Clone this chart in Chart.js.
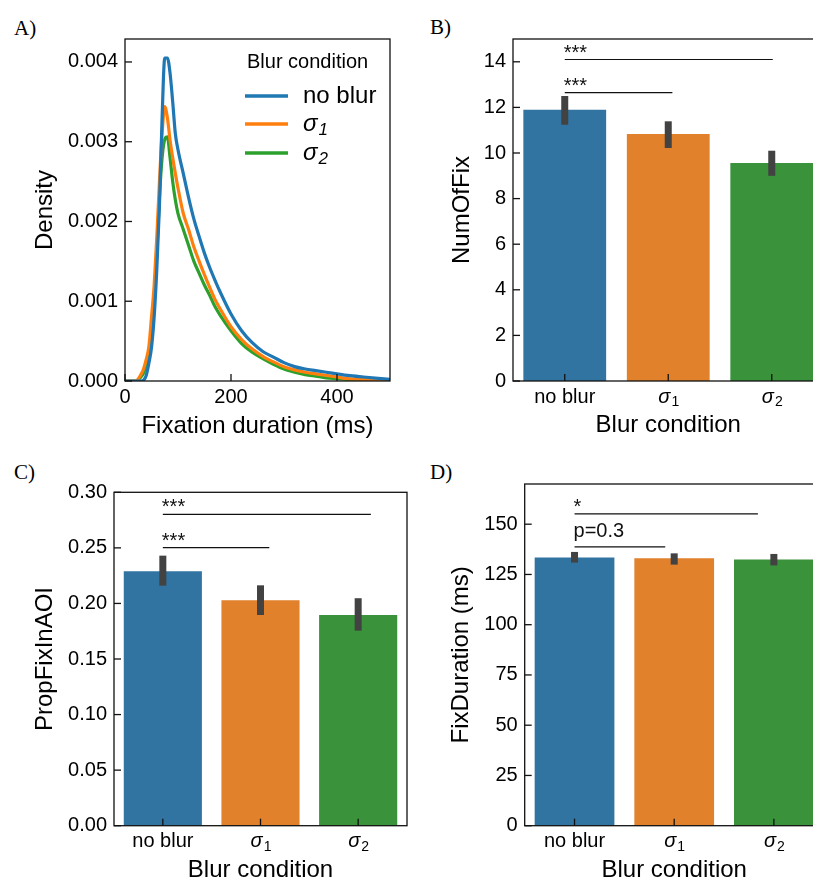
<!DOCTYPE html>
<html>
<head>
<meta charset="utf-8">
<script src="https://cdn.jsdelivr.net/npm/chart.js@4.4.1/dist/chart.umd.min.js"></script>
<style>
html, body { margin: 0; padding: 0; width: 813px; height: 880px; overflow: hidden; background: #fff; }
canvas { position: absolute; }
.tag { position: absolute; font-family: "Liberation Serif", serif; font-size: 21px; color: #000; line-height: 1; }
</style>
</head>
<body>
<div class="tag" style="left:14px;top:18px">A)</div>
<div class="tag" style="left:430px;top:17px">B)</div>
<div class="tag" style="left:14px;top:462px">C)</div>
<div class="tag" style="left:430px;top:462px">D)</div>
<canvas id="panelA" width="406" height="450" style="left:0;top:0"></canvas>
<canvas id="panelB" width="430" height="450" style="left:410px;top:0"></canvas>
<canvas id="panelC" width="430" height="450" style="left:0;top:440px"></canvas>
<canvas id="panelD" width="430" height="450" style="left:410px;top:440px"></canvas>
<script>
// categories and colours
var categories = ['no blur', 'σ1', 'σ2'];
var barColors = ['#3274a1', '#e1812c', '#3a923a'];
var lineColors = ['#1f77b4', '#ff7f0e', '#2ca02c'];

// A) density of fixation durations
var durationMs = [0, 20, 30, 35, 40, 45, 50, 55, 60, 65, 70, 75, 80, 85, 90, 95, 100, 110, 120, 130, 140, 150, 160, 170, 180, 200, 220, 240, 260, 280, 300, 320, 340, 360, 380, 400, 420, 450, 500];
var densityNoBlur = [0, 0, 0, 0.00001, 0.00007, 0.00022, 0.00042, 0.0008, 0.0014, 0.0022, 0.0033, 0.00405, 0.00405, 0.00386, 0.0035, 0.0031, 0.0029, 0.0026, 0.0023, 0.00203, 0.00181, 0.0016, 0.00142, 0.00126, 0.00111, 0.00084, 0.00063, 0.00048, 0.00037, 0.0003, 0.00023, 0.00018, 0.00015, 0.00013, 0.00011, 0.00009, 0.00007, 0.00005, 0.00002];
var densitySigma1 = [0, 0, 0.00008, 0.00015, 0.00027, 0.00043, 0.0008, 0.0012, 0.0018, 0.0025, 0.0031, 0.00344, 0.0033, 0.00302, 0.0028, 0.0026, 0.00242, 0.0021, 0.0019, 0.00168, 0.0015, 0.00133, 0.00117, 0.00102, 0.0009, 0.00068, 0.00052, 0.0004, 0.00031, 0.00024, 0.00018, 0.00014, 0.00011, 0.00009, 0.00007, 0.00005, 0.00003, 0.00002, 0.00001];
var densitySigma2 = [0, 0, 0.00005, 0.0001, 0.0002, 0.00035, 0.0006, 0.001, 0.0016, 0.0023, 0.0028, 0.00303, 0.00306, 0.0028, 0.0025, 0.00227, 0.0021, 0.0019, 0.0017, 0.0015, 0.00135, 0.0012, 0.00107, 0.00093, 0.00082, 0.00063, 0.00047, 0.00036, 0.00028, 0.00021, 0.00015, 0.00011, 0.00008, 0.00006, 0.00004, 0.00003, 0.00002, 0.00001, 0.00001];

// B) number of fixations
var numOfFix = [11.9, 10.83, 9.56];
var numOfFixLow = [11.24, 10.22, 9.0];
var numOfFixHigh = [12.5, 11.39, 10.1];
var numOfFixSig = [[0, 2.01, 14.1, '***'], [0, 1.04, 12.65, '***']];

// C) proportion of fixations in AOI
var propFix = [0.229, 0.2028, 0.1896];
var propFixLow = [0.216, 0.1896, 0.1755];
var propFixHigh = [0.243, 0.2163, 0.2047];
var propFixSig = [[0, 2.13, 0.2802, '***'], [0, 1.09, 0.2502, '***']];

// D) fixation duration
var fixDur = [133.4, 133.0, 132.5];
var fixDurLow = [130.9, 129.9, 129.5];
var fixDurHigh = [136.2, 135.5, 135.2];
var fixDurSig = [[0, 1.84, 155.1, '*'], [0, 0.91, 138.7, 'p=0.3']];

var SANS = '"Liberation Sans", Arial, sans-serif';

function drawSigma(ctx, x, y, sub, size, italicSub, align) {
    var f1 = 'italic ' + size + 'px ' + SANS;
    var subSize = Math.round(size * 0.7);
    var f2 = (italicSub ? 'italic ' : '') + subSize + 'px ' + SANS;
    ctx.font = f1;
    var w1 = ctx.measureText('σ').width;
    ctx.font = f2;
    var w2 = ctx.measureText(sub).width;
    var x0 = align === 'center' ? x - (w1 + w2) / 2 : x;
    ctx.textAlign = 'left';
    ctx.font = f1;
    ctx.fillText('σ', x0, y);
    ctx.font = f2;
    ctx.fillText(sub, x0 + w1 + 1, y + size * 0.25);
}

var decor = {
    id: 'decor',
    afterDatasetsDraw: function (chart, args, opts) {
        var ctx = chart.ctx, area = chart.chartArea;
        var xs = chart.scales.x, ys = chart.scales.y;
        ctx.save();
        // error bars
        if (opts.low) {
            ctx.strokeStyle = '#424242';
            ctx.lineWidth = 7;
            opts.low.forEach(function (lo, i) {
                var px = xs.getPixelForValue(i);
                ctx.beginPath();
                ctx.moveTo(px, ys.getPixelForValue(lo));
                ctx.lineTo(px, ys.getPixelForValue(opts.high[i]));
                ctx.stroke();
            });
        }
        // significance lines
        if (opts.sig) {
            ctx.strokeStyle = '#111';
            ctx.fillStyle = '#111';
            ctx.lineWidth = 1.2;
            opts.sig.forEach(function (s) {
                var x1 = xs.getPixelForValue(s[0]), x2 = xs.getPixelForValue(s[1]);
                var py = ys.getPixelForValue(s[2]);
                ctx.beginPath();
                ctx.moveTo(x1, py);
                ctx.lineTo(x2, py);
                ctx.stroke();
                ctx.font = '20px ' + SANS;
                ctx.textAlign = 'left';
                ctx.textBaseline = 'alphabetic';
                ctx.fillText(s[3], x1 - 1, py - (s[3].indexOf('p') >= 0 ? 10 : 1));
            });
        }
        // frame
        ctx.strokeStyle = '#111';
        ctx.lineWidth = 1.3;
        ctx.strokeRect(area.left, area.top, area.right - area.left, area.bottom - area.top);
        // inward ticks
        ys.ticks.forEach(function (t, i) {
            var py = ys.getPixelForTick(i);
            ctx.beginPath();
            ctx.moveTo(area.left, py);
            ctx.lineTo(area.left + 7, py);
            ctx.stroke();
        });
        xs.ticks.forEach(function (t, i) {
            var px = xs.getPixelForTick(i);
            ctx.beginPath();
            ctx.moveTo(px, area.bottom);
            ctx.lineTo(px, area.bottom - 7);
            ctx.stroke();
        });
        // category labels
        if (opts.xLabels) {
            ctx.fillStyle = '#000';
            ctx.textBaseline = 'middle';
            opts.xLabels.forEach(function (lab, i) {
                var px = xs.getPixelForValue(i);
                var py = area.bottom + 16;
                if (lab.charAt(0) === 'σ') {
                    drawSigma(ctx, px, py, lab.slice(1), 20, false, 'center');
                } else {
                    ctx.font = '20px ' + SANS;
                    ctx.textAlign = 'center';
                    ctx.fillText(lab, px, py);
                }
            });
        }
        // legend for the density panel
        if (opts.legend) {
            ctx.fillStyle = '#000';
            ctx.textBaseline = 'middle';
            ctx.textAlign = 'left';
            ctx.font = '20px ' + SANS;
            ctx.fillText('Blur condition', 247, 62);
            var rows = [96, 124, 153];
            categories.forEach(function (lab, i) {
                ctx.strokeStyle = lineColors[i];
                ctx.lineWidth = 3.3;
                ctx.beginPath();
                ctx.moveTo(245, rows[i]);
                ctx.lineTo(288, rows[i]);
                ctx.stroke();
                ctx.fillStyle = '#000';
                if (lab.charAt(0) === 'σ') {
                    drawSigma(ctx, 303, rows[i], lab.slice(1), 24, true, 'left');
                } else {
                    ctx.font = '24px ' + SANS;
                    ctx.textAlign = 'left';
                    ctx.fillText(lab, 303, rows[i]);
                }
            });
        }
        ctx.restore();
    }
};

function yAxis(max, step, digits, title, width, titlePad) {
    return {
        type: 'linear', min: 0, max: max,
        grid: { display: false, drawTicks: false },
        border: { display: false },
        ticks: {
            stepSize: step, includeBounds: false, padding: 7, color: '#000',
            font: { family: SANS, size: 20 },
            callback: function (v) { return v.toFixed(digits); }
        },
        title: { display: true, text: title, color: '#000', font: { family: SANS, size: 24 }, padding: { top: titlePad, bottom: 0 } },
        afterFit: function (s) { s.width = width; }
    };
}

function catAxis(height, titlePad) {
    return {
        type: 'category', labels: categories, offset: true,
        grid: { display: false, drawTicks: false },
        border: { display: false },
        ticks: { display: false },
        title: { display: true, text: 'Blur condition', color: '#000', font: { family: SANS, size: 24 }, padding: { top: 0, bottom: titlePad } },
        afterFit: function (s) { s.height = height; }
    };
}

function barPanel(id, values, low, high, sig, yOpts, xOpts, pad) {
    new Chart(document.getElementById(id), {
        type: 'bar',
        data: {
            labels: categories,
            datasets: [{
                data: values,
                backgroundColor: barColors,
                borderWidth: 0,
                barPercentage: 0.8,
                categoryPercentage: 1.0
            }]
        },
        options: {
            responsive: false,
            animation: false,
            layout: { padding: pad },
            scales: { x: xOpts, y: yOpts },
            plugins: {
                legend: { display: false },
                tooltip: { enabled: false },
                decor: { low: low, high: high, sig: sig, xLabels: categories }
            }
        },
        plugins: [decor]
    });
}

// A) density lines
function toPoints(ys) {
    return durationMs.map(function (x, i) { return { x: x, y: ys[i] }; });
}
new Chart(document.getElementById('panelA'), {
    type: 'line',
    data: {
        datasets: [densityNoBlur, densitySigma1, densitySigma2].map(function (d, i) {
            return {
                label: categories[i],
                data: toPoints(d),
                borderColor: lineColors[i],
                borderWidth: 3.2,
                pointRadius: 0,
                fill: false,
                cubicInterpolationMode: 'monotone'
            };
        })
    },
    options: {
        responsive: false,
        animation: false,
        layout: { padding: { left: 0, top: 39, right: 16, bottom: 0 } },
        scales: {
            x: {
                type: 'linear', min: 0, max: 500,
                grid: { display: false, drawTicks: false },
                border: { display: false },
                ticks: { stepSize: 200, includeBounds: false, padding: 4, maxRotation: 0, color: '#000', font: { family: SANS, size: 20 } },
                title: { display: true, text: 'Fixation duration (ms)', color: '#000', font: { family: SANS, size: 24 }, padding: { top: 0, bottom: 9.6 } },
                afterFit: function (s) { s.height = 69; }
            },
            y: yAxis(0.004288, 0.001, 3, 'Density', 125, 30.6)
        },
        plugins: {
            legend: { display: false },
            tooltip: { enabled: false },
            decor: { legend: true }
        }
    },
    plugins: [decor]
});

barPanel('panelB', numOfFix, numOfFixLow, numOfFixHigh, numOfFixSig,
    yAxis(15, 2, 0, 'NumOfFix', 103, 37.6), catAxis(69, 10.6),
    { left: 0, top: 39, right: 16.5, bottom: 0 });

barPanel('panelC', propFix, propFixLow, propFixHigh, propFixSig,
    yAxis(0.3, 0.05, 2, 'PropFixInAOI', 114, 30.6), catAxis(64.3, 5.6),
    { left: 0, top: 52.3, right: 23, bottom: 0 });

barPanel('panelD', fixDur, fixDurLow, fixDurHigh, fixDurSig,
    yAxis(170, 25, 0, 'FixDuration (ms)', 114.7, 37.3), catAxis(64.3, 5.6),
    { left: 0, top: 44, right: 16.3, bottom: 0 });
</script>
</body>
</html>
